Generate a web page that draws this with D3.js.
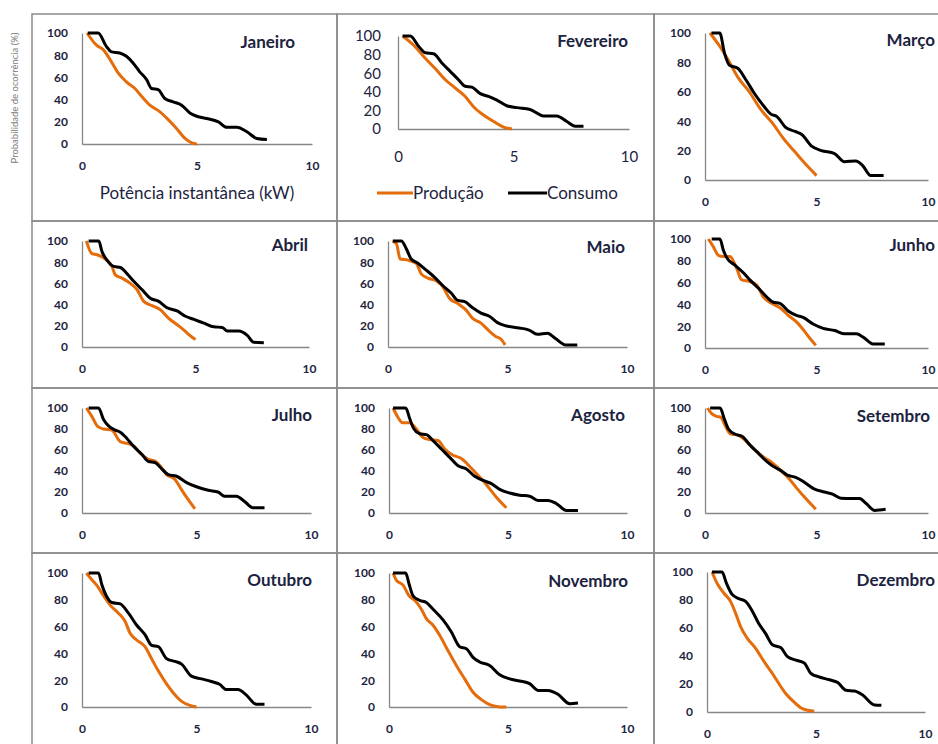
<!DOCTYPE html>
<html>
<head>
<meta charset="utf-8">
<script src="https://cdn.jsdelivr.net/npm/d3@7"></script>
<style>
  body { margin: 0; background: #fff; }
  svg { display: block; font-family: Lato, "Open Sans", sans-serif; }
</style>
</head>
<body>
<svg width="938" height="744"></svg>
<script>
// values: [kW, probability %]
const months = ["Janeiro", "Fevereiro", "Março", "Abril", "Maio", "Junho",
                "Julho", "Agosto", "Setembro", "Outubro", "Novembro", "Dezembro"];
const yTicks = [0, 20, 40, 60, 80, 100];
const xTicks = [0, 5, 10];
const seriesNames = ["Produção", "Consumo"];

const janProd = [[0.22,100],[0.63,89],[0.92,85],[1.28,74],[1.57,64],[1.93,56],[2.3,50],[2.59,43],[2.95,35],[3.39,29],[3.75,22],[4.11,14],[4.48,5],[4.77,1],[4.99,0]];
const janCons = [[0.25,100],[0.7,100],[1.06,88],[1.28,83],[1.64,82],[1.93,79],[2.22,73],[2.51,65],[2.81,58],[3.02,50],[3.31,49],[3.6,41],[3.97,38],[4.33,35],[4.69,28],[4.99,25],[5.42,23],[5.93,20],[6.29,15],[6.73,15],[7.17,11],[7.6,5],[8.04,4]];
const febProd = [[0.2,100],[0.68,90],[1.11,78],[1.61,65],[2.05,53],[2.48,44],[2.91,35],[3.27,24],[3.7,15],[4.14,8],[4.57,2],[4.93,0]];
const febCons = [[0.2,100],[0.53,100],[0.89,89],[1.18,82],[1.54,81],[1.9,71],[2.26,62],[2.62,53],[2.91,46],[3.2,45],[3.56,38],[3.92,35],[4.28,31],[4.71,25],[5.14,23],[5.72,21],[6.3,14],[6.87,14],[7.31,8],[7.67,3],[8.03,3]];
const marProd = [[0.22,100],[0.66,91],[1.03,82],[1.47,70],[1.99,60],[2.5,48],[3.01,39],[3.53,28],[4.04,19],[4.56,10],[5.0,3]];
const marCons = [[0.29,100],[0.66,100],[0.88,86],[1.1,78],[1.47,76],[1.84,68],[2.21,59],[2.65,50],[2.94,45],[3.24,43],[3.6,36],[4.04,33],[4.34,31],[4.78,23],[5.22,20],[5.81,18],[6.25,12.5],[6.76,13],[7.06,10],[7.43,3],[8.01,3]];
const abrProd = [[0.19,100],[0.44,88],[0.66,87],[1.03,83],[1.32,76],[1.47,68],[1.76,65],[2.13,60],[2.43,54],[2.72,43],[3.09,39],[3.46,35],[3.82,27],[4.19,21],[4.49,16],[4.75,11],[5.0,7]];
const abrCons = [[0.29,100],[0.74,100],[0.88,90],[1.1,82],[1.4,76],[1.69,75],[1.99,69],[2.28,62],[2.65,54],[3.01,46],[3.38,43],[3.75,37],[4.19,34],[4.56,29],[4.93,26],[5.37,22.5],[5.81,19],[6.18,18.5],[6.4,15],[6.91,15],[7.28,11],[7.57,4.4],[8.01,4]];
const maiProd = [[0.18,100],[0.35,97.5],[0.51,83],[0.83,82],[1.18,79],[1.39,69],[1.67,65],[2.01,62.5],[2.29,57],[2.57,46],[2.92,41],[3.26,35],[3.54,27],[3.89,22.5],[4.24,15],[4.51,10],[4.72,7.5],[4.9,2]];
const maiCons = [[0.21,100],[0.56,100],[0.76,93],[0.97,83],[1.25,79],[1.6,72.5],[1.94,66],[2.29,58],[2.64,51],[2.92,44],[3.19,43],[3.54,37],[3.89,32],[4.24,29],[4.58,23],[4.93,20],[5.49,18],[5.9,16],[6.25,12],[6.67,13],[7.01,8],[7.43,2],[7.92,2]];
const junProd = [[0.15,100],[0.37,93],[0.6,85],[0.82,84],[1.12,84],[1.42,73],[1.64,62.5],[2.01,61],[2.31,58],[2.61,47],[2.99,41],[3.36,37],[3.73,30],[4.1,24],[4.4,17],[4.7,9],[4.97,2.4]];
const junCons = [[0.3,100],[0.67,100],[0.82,90],[1.0,82],[1.34,76],[1.72,69],[2.01,62.5],[2.39,55],[2.76,47],[3.06,42],[3.36,41],[3.73,34],[4.1,30],[4.4,28],[4.85,22],[5.3,18],[5.82,16],[6.27,13],[6.79,13],[7.09,10],[7.54,3.7],[8.06,3.7]];
const julProd = [[0.19,100],[0.43,92],[0.68,82.5],[0.94,80],[1.3,79],[1.67,68],[2.03,66],[2.25,64],[2.54,57],[2.9,51],[3.19,49.5],[3.48,43],[3.7,36.5],[4.06,32],[4.35,22],[4.64,12.7],[4.93,4]];
const julCons = [[0.29,100],[0.72,100],[0.94,89],[1.16,83],[1.45,79],[1.67,77],[1.96,71],[2.25,63.5],[2.61,56],[2.9,49],[3.19,48],[3.48,42],[3.77,36.5],[4.13,35],[4.57,29],[5.0,25],[5.51,21.6],[5.94,20],[6.23,16],[6.74,16],[7.1,11],[7.46,5],[7.97,5]];
const agoProd = [[0.17,100],[0.38,91],[0.56,86],[0.87,86],[1.15,80],[1.43,72],[1.71,70],[2.06,69],[2.34,61],[2.69,55],[3.04,52],[3.32,46],[3.67,37.5],[3.95,31],[4.23,23],[4.51,15],[4.93,5]];
const agoCons = [[0.17,100],[0.7,100],[0.87,90],[1.0,82],[1.29,75.5],[1.57,74.6],[1.85,69],[2.2,61],[2.55,53],[2.9,45],[3.25,42],[3.6,35],[3.95,31],[4.3,28],[4.65,22.5],[5.07,19],[5.49,17],[5.91,16],[6.26,12],[6.68,12],[7.03,9],[7.45,2.5],[7.94,2.5]];
const setProd = [[0.11,100],[0.3,94.6],[0.53,92],[0.71,91],[0.9,83.5],[1.13,75.5],[1.51,74],[1.88,67.6],[2.26,59.7],[2.64,53],[3.01,48],[3.39,40.6],[3.77,32.7],[4.14,23],[4.52,13.7],[4.97,3.5]];
const setCons = [[0.23,100],[0.68,100],[0.86,90],[1.05,80],[1.36,75],[1.66,73],[2.03,64.4],[2.41,56.5],[2.79,48.6],[3.09,44],[3.39,40.6],[3.69,36],[4.07,34],[4.44,29.5],[4.89,23],[5.35,20],[5.72,18],[6.1,14],[6.55,13.7],[6.93,13.7],[7.23,9],[7.61,2.5],[8.1,3.5]];
const outProd = [[0.19,100],[0.43,95],[0.68,90],[0.94,83],[1.23,76],[1.59,70],[1.88,64],[2.1,55],[2.39,50],[2.75,45],[3.04,36],[3.33,27],[3.7,17],[3.99,10.4],[4.35,4.2],[4.71,1.2],[5.0,0]];
const outCons = [[0.29,100],[0.72,100],[0.87,91],[1.06,83],[1.3,78],[1.67,77],[2.03,70],[2.39,61],[2.75,54],[3.04,46],[3.33,45],[3.7,36],[4.06,34],[4.35,32],[4.78,23],[5.22,21],[5.65,19],[6.01,17],[6.3,13],[6.81,13],[7.17,9],[7.61,2],[7.97,2]];
const novProd = [[0.17,100],[0.31,94.5],[0.59,91],[0.84,83],[1.08,79.6],[1.36,73],[1.57,66],[1.85,61],[2.13,53.5],[2.48,42],[2.83,31],[3.18,21],[3.53,11],[3.88,5.5],[4.23,1.7],[4.65,0],[4.93,0]];
const novCons = [[0.17,100],[0.7,100],[0.84,92],[1.01,83],[1.29,79.6],[1.57,78],[1.85,73],[2.27,65],[2.62,56],[2.97,45],[3.25,43.5],[3.53,37],[3.81,33.6],[4.23,31],[4.65,24],[5.07,21],[5.49,19.4],[5.91,17.4],[6.26,12.4],[6.68,12.4],[7.1,9.5],[7.59,2.5],[7.94,3]];
const dezProd = [[0.23,100],[0.46,92],[0.77,85],[1.08,79],[1.31,70.6],[1.54,61],[1.85,52.6],[2.23,45.5],[2.62,36],[3.0,27.5],[3.31,20],[3.62,13],[4.0,7],[4.38,2.4],[4.92,0.5]];
const dezCons = [[0.23,100],[0.69,100],[0.89,92],[1.15,84],[1.46,81],[1.77,79],[2.08,72],[2.38,63],[2.69,56],[3.0,48],[3.38,46],[3.69,39.5],[4.08,37],[4.46,35],[4.77,27.5],[5.15,25],[5.62,23],[6.0,21],[6.38,15.5],[6.77,15],[7.15,12],[7.69,5],[8.0,4.8]];

const prodSeries = [janProd, febProd, marProd, abrProd, maiProd, junProd, julProd, agoProd, setProd, outProd, novProd, dezProd];
const consSeries = [janCons, febCons, marCons, abrCons, maiCons, junCons, julCons, agoCons, setCons, outCons, novCons, dezCons];

const colProd = "#e46c0a", colCons = "#000000";
const textCol = "#1c2340";

// plot rectangles of each little chart: [x of 0, x of 10, y of 100, y of 0], title end x / centre y
const layout = [
  {x0: 82,  x1: 312, yt: 33,  yb: 144, tx: 295, ty: 42},
  {x0: 398, x1: 629, yt: 36,  yb: 129, tx: 628, ty: 41, big: true},
  {x0: 705, x1: 928, yt: 33,  yb: 180, tx: 935, ty: 40},
  {x0: 82,  x1: 309, yt: 241, yb: 347, tx: 308, ty: 245},
  {x0: 388, x1: 627, yt: 241, yb: 347, tx: 625, ty: 247},
  {x0: 705, x1: 928, yt: 239, yb: 348, tx: 935, ty: 245},
  {x0: 82,  x1: 311, yt: 408, yb: 513, tx: 312, ty: 415},
  {x0: 389, x1: 627, yt: 408, yb: 513, tx: 625, ty: 415},
  {x0: 705, x1: 928, yt: 408, yb: 513, tx: 930, ty: 416},
  {x0: 82,  x1: 311, yt: 573, yb: 707, tx: 312, ty: 580},
  {x0: 389, x1: 627, yt: 573, yb: 707, tx: 628, ty: 581},
  {x0: 707, x1: 925, yt: 572, yb: 712, tx: 935, ty: 580}
];

const svg = d3.select("svg");
svg.append("rect").attr("width", 938).attr("height", 744).attr("fill", "#fff");

// cell borders
const colEdges = [32, 337, 654, 960];
const rowEdges = [14, 221, 388, 553, 760];
const borders = svg.append("g").attr("stroke", "#8a8a8a").attr("stroke-width", 1.5).attr("fill", "none");
for (let r = 0; r < 4; r++) {
  for (let c = 0; c < 3; c++) {
    borders.append("rect")
      .attr("x", colEdges[c]).attr("y", rowEdges[r])
      .attr("width", colEdges[c + 1] - colEdges[c])
      .attr("height", rowEdges[r + 1] - rowEdges[r]);
  }
}

months.forEach((name, i) => {
  const p = layout[i];
  const g = svg.append("g");
  const x = d3.scaleLinear().domain([0, 10]).range([p.x0, p.x1]);
  const y = d3.scaleLinear().domain([0, 100]).range([p.yb, p.yt]);
  const fs = p.big ? 15 : 12;

  const yAxis = g.append("g")
    .attr("transform", `translate(${p.x0},0)`)
    .call(d3.axisLeft(y).tickValues(yTicks).tickSize(0).tickSizeOuter(0).tickPadding(p.big ? 17 : 14));
  const xAxis = g.append("g")
    .attr("transform", `translate(0,${p.yb})`)
    .call(d3.axisBottom(x).tickValues(xTicks).tickSize(0).tickSizeOuter(0).tickPadding(p.big ? 22 : 17));

  [yAxis, xAxis].forEach(a => {
    a.select(".domain").attr("stroke", "#868686").attr("stroke-width", 1.3);
    a.selectAll("text")
      .attr("fill", textCol)
      .attr("font-family", "Lato, sans-serif")
      .attr("font-size", fs + "px")
      .attr("font-weight", p.big ? "normal" : "bold");
  });

  const line = d3.line()
    .x(d => x(d[0]))
    .y(d => y(d[1]))
    .curve(d3.curveMonotoneX);

  g.append("path")
    .datum(prodSeries[i])
    .attr("fill", "none")
    .attr("stroke", colProd)
    .attr("stroke-width", 3)
    .attr("stroke-linejoin", "round")
    .attr("d", line);

  g.append("path")
    .datum(consSeries[i])
    .attr("fill", "none")
    .attr("stroke", colCons)
    .attr("stroke-width", 3)
    .attr("stroke-linejoin", "round")
    .attr("d", line);

  g.append("text")
    .attr("x", p.tx)
    .attr("y", p.ty)
    .attr("dy", "0.35em")
    .attr("text-anchor", "end")
    .attr("font-size", "17px")
    .attr("font-weight", "bold")
    .attr("fill", textCol)
    .text(name);
});

// x axis title under January
svg.append("text")
  .attr("x", 197).attr("y", 193).attr("dy", "0.35em")
  .attr("text-anchor", "middle")
  .attr("font-size", "17px")
  .attr("fill", textCol)
  .text("Potência instantânea (kW)");

// legend under February
const legend = svg.append("g");
const legendItems = [
  {name: seriesNames[0], col: colProd, lx: 377, tx: 413},
  {name: seriesNames[1], col: colCons, lx: 508, tx: 547}
];
legendItems.forEach(d => {
  legend.append("line")
    .attr("x1", d.lx).attr("x2", d.tx).attr("y1", 193).attr("y2", 193)
    .attr("stroke", d.col).attr("stroke-width", 3);
  legend.append("text")
    .attr("x", d.tx).attr("y", 193).attr("dy", "0.35em")
    .attr("font-size", "17px")
    .attr("fill", textCol)
    .text(d.name);
});

// shared y label
svg.append("text")
  .attr("transform", "translate(15,98) rotate(-90)")
  .attr("dy", "0.35em")
  .attr("text-anchor", "middle")
  .attr("font-size", "9.5px")
  .attr("fill", "#7a7a7a")
  .text("Probabilidade de ocorrência (%)");
</script>
</body>
</html>
